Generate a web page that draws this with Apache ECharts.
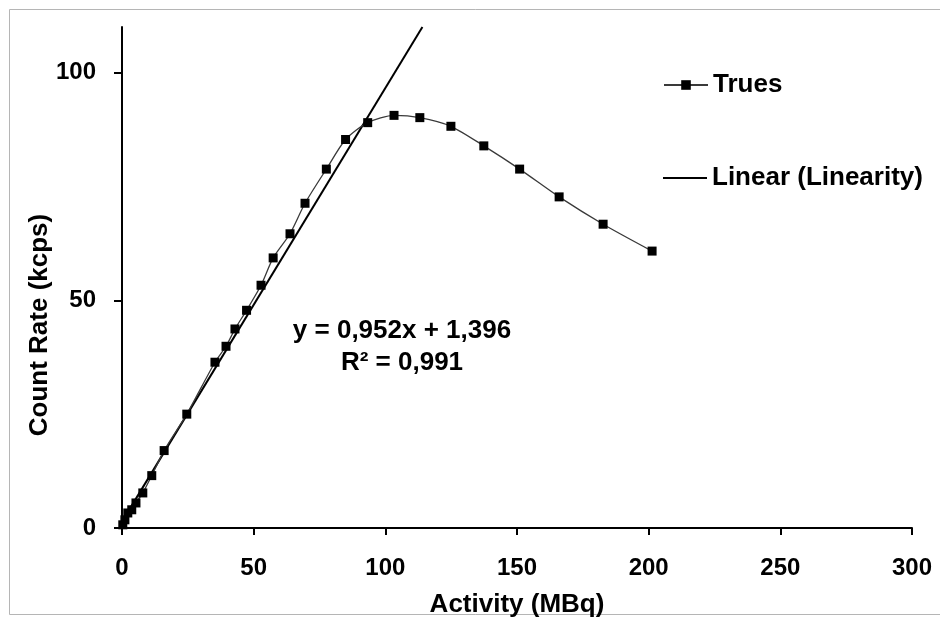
<!DOCTYPE html>
<html>
<head>
<meta charset="utf-8">
<title>Count Rate vs Activity</title>
<script src="https://cdn.jsdelivr.net/npm/echarts@6/dist/echarts.min.js"></script>
<style>
  html, body { margin: 0; padding: 0; background: #fff; }
  #chart { width: 940px; height: 619px; }
</style>
</head>
<body>
<div id="chart"></div>
<script>
// Measured activity (MBq) and true count rate (kcps)
const activity = [0.3, 1.1, 2.2, 3.7, 5.3, 7.9, 11.3, 16.0, 24.6, 35.3, 39.5, 42.9, 47.3, 52.8, 57.4, 63.8, 69.5, 77.6, 84.9, 93.3, 103.3, 113.1, 124.9, 137.4, 151.0, 166.0, 182.7, 201.3];
const trues    = [0.7, 1.8, 3.3, 4.0, 5.5, 7.7, 11.5, 17.0, 25.0, 36.4, 39.9, 43.7, 47.8, 53.3, 59.3, 64.6, 71.3, 78.8, 85.3, 89.0, 90.6, 90.1, 88.2, 83.9, 78.8, 72.7, 66.7, 60.8];

// Linear fit over the linear region
const fitSlope = 0.952;
const fitIntercept = 1.396;
const fitLabel = ['y = 0,952x + 1,396', 'R\u00B2 = 0,991'];

// Axis ticks
const xTicks = [0, 50, 100, 150, 200, 250, 300];
const yTicks = [0, 50, 100];
const yMax = 110;

const FONT = "'Liberation Sans', Arial, sans-serif";

const fitEndX = (yMax - fitIntercept) / fitSlope;
const fitLine = [[0, fitIntercept], [fitEndX, fitSlope * fitEndX + fitIntercept]];

const chart = echarts.init(document.getElementById('chart'), null, { renderer: 'canvas' });

const legendText = { fontFamily: FONT, fontWeight: 'bold', fontSize: 26, color: '#000', lineHeight: 30 };

chart.setOption({
  backgroundColor: '#fff',
  animation: false,
  grid: { left: 122, right: 28, top: 27, bottom: 91, containLabel: false, outerBoundsMode: 'none' },
  xAxis: {
    type: 'value',
    min: 0, max: 300, interval: 50,
    name: 'Activity (MBq)',
    nameLocation: 'middle',
    nameGap: 64,
    nameTextStyle: { fontFamily: FONT, fontWeight: 'bold', fontSize: 26, color: '#000' },
    axisLine: { show: true, onZero: false, lineStyle: { color: '#000', width: 2 } },
    axisTick: { show: true, inside: false, length: 7, lineStyle: { color: '#000', width: 2 }, customValues: xTicks },
    axisLabel: { fontFamily: FONT, fontWeight: 'bold', fontSize: 24, color: '#000', margin: 28, customValues: xTicks },
    splitLine: { show: false }
  },
  yAxis: {
    type: 'value',
    min: 0, max: yMax, interval: 50,
    axisLine: { show: true, onZero: false, lineStyle: { color: '#000', width: 2 } },
    axisTick: { show: true, inside: false, length: 8, lineStyle: { color: '#000', width: 2 }, customValues: yTicks },
    axisLabel: { fontFamily: FONT, fontWeight: 'bold', fontSize: 24, color: '#000', margin: 26, customValues: yTicks },
    splitLine: { show: false }
  },
  legend: [
    {
      data: ['Trues'],
      orient: 'vertical',
      left: 663, top: 70,
      padding: 0,
      itemWidth: 44, itemHeight: 12, itemGap: 6,
      textStyle: legendText
    },
    {
      data: [{ name: 'Linear (Linearity)', icon: 'rect' }],
      orient: 'vertical',
      left: 663, top: 163,
      padding: 0,
      itemWidth: 44, itemHeight: 2, itemGap: 6,
      textStyle: legendText
    }
  ],
  graphic: [
    {
      type: 'rect',
      shape: { x: 9.5, y: 9.5, width: 960, height: 605 },
      style: { fill: 'none', stroke: '#b5b5b5', lineWidth: 1 },
      silent: true, z: -10
    },
    {
      type: 'text',
      x: 40, y: 325,
      rotation: Math.PI / 2,
      style: {
        text: 'Count Rate (kcps)',
        fontFamily: FONT, fontWeight: 'bold', fontSize: 26, fill: '#000',
        align: 'center', verticalAlign: 'middle'
      }
    },
    {
      type: 'text',
      x: 402, y: 347,
      style: {
        text: fitLabel.join('\n'),
        fontFamily: FONT, fontWeight: 'bold', fontSize: 26, fill: '#000',
        lineHeight: 32,
        align: 'center', verticalAlign: 'middle'
      }
    }
  ],
  series: [
    {
      name: 'Linear (Linearity)',
      type: 'line',
      data: fitLine,
      symbol: 'none',
      lineStyle: { color: '#000', width: 2 },
      itemStyle: { color: '#000' },
      clip: true,
      z: 2
    },
    {
      name: 'Trues',
      type: 'line',
      data: activity.map((a, i) => [a, trues[i]]),
      smooth: 0.25,
      symbol: 'rect',
      symbolSize: 9,
      lineStyle: { color: '#3a3a3a', width: 1.3 },
      itemStyle: { color: '#000' },
      z: 3
    }
  ]
});
</script>
</body>
</html>
